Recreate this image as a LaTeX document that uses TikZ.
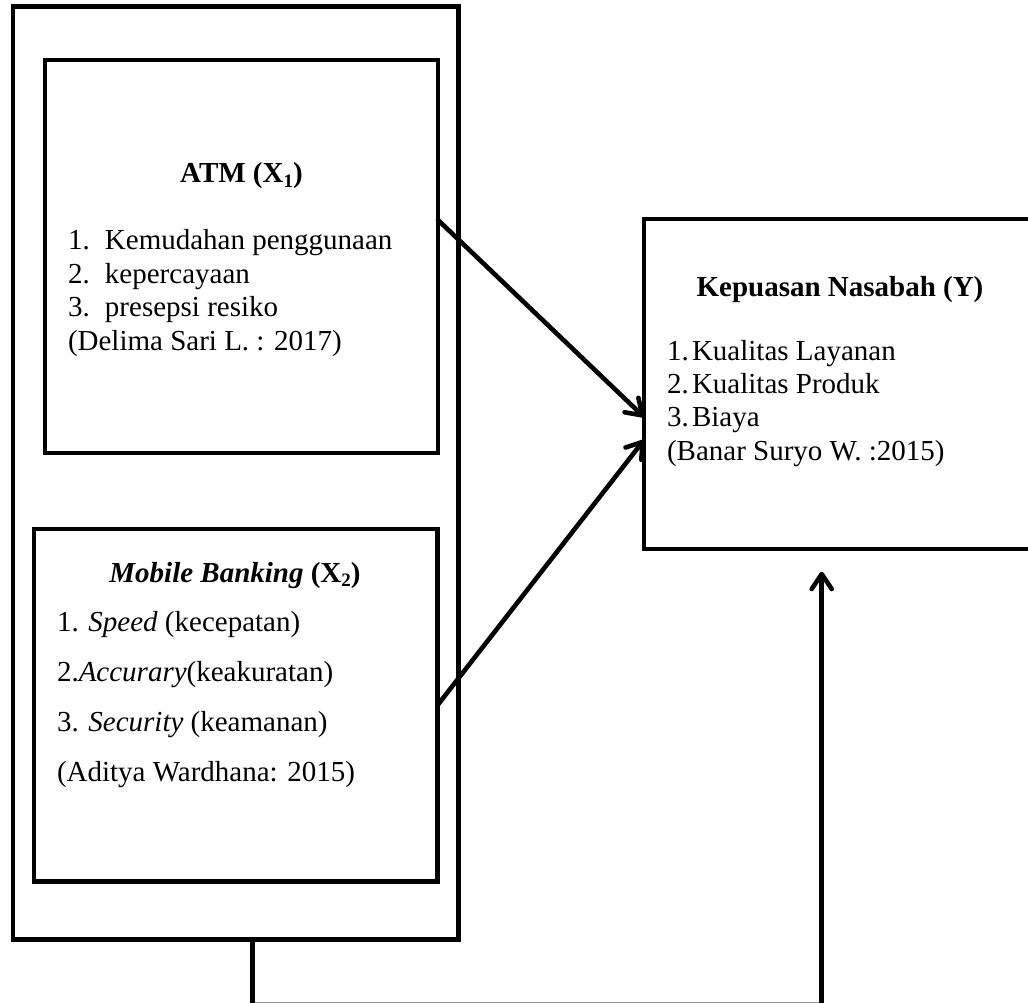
\documentclass[tikz,border=0pt]{standalone}
\usepackage{fontspec}
\setmainfont{Liberation Serif}
\usetikzlibrary{arrows.meta}
\newcommand{\subidx}[1]{\raisebox{-0.14em}{\fontsize{19}{19}\selectfont #1}}
\tikzset{
  frame/.style={draw=black, line width=4.8pt, inner sep=0pt, outer sep=0pt, rectangle},
  inbox/.style={draw=black, line width=4.4pt, inner sep=0pt, outer sep=0pt, rectangle},
  txt/.style={inner sep=0pt, outer sep=0pt, font=\fontsize{29}{33.4}\selectfont},
  line/.style={draw=black, line width=4.6pt, line cap=round},
  arr/.style={line, -{Straight Barb[length=15pt,width=20pt,round]}}
}
\begin{document}
\begin{tikzpicture}[x=1pt,y=-1pt]
\clip (0,0) rectangle (1028,1003);
\fill[white] (0,0) rectangle (1028,1003);

% boxes
\node[frame, minimum width=445.5pt, minimum height=933.2pt] (outer) at (235.75,472.9) {};
\node[inbox, minimum width=393pt, minimum height=393pt] (atm) at (241.5,256.5) {};
\node[inbox, minimum width=403.5pt, minimum height=352.5pt] (mob) at (235.75,705.25) {};
\node[inbox, minimum width=386pt, minimum height=330pt] (kep) at (837,384) {};

% ATM text
\node[txt, anchor=base] (atmT) at (241.5,183) {\textbf{ATM (X\subidx{1})}};
\node[txt, anchor=base west] (atm1) at (68,250) {\makebox[37pt][l]{1.}Kemudahan penggunaan};
\node[txt, anchor=base west] (atm2) at (68,283.4) {\makebox[37pt][l]{2.}kepercayaan};
\node[txt, anchor=base west] (atm3) at (68,316.8) {\makebox[37pt][l]{3.}presepsi resiko};
\node[txt, anchor=base west] (atm4) at (68,350.2) {(Delima Sari L. : 2017)};

% Mobile banking text
\node[txt, anchor=base] (mobT) at (235,582) {\textbf{\textit{Mobile Banking}} \textbf{(X\subidx{2})}};
\node[txt, anchor=base west] (mob1) at (57,631) {1. \textit{Speed} (kecepatan)};
\node[txt, anchor=base west] (mob2) at (57,681) {2.\textit{Accurary}(keakuratan)};
\node[txt, anchor=base west] (mob3) at (57,731) {3. \textit{Security} (keamanan)};
\node[txt, anchor=base west] (mob4) at (57,781) {(Aditya Wardhana: 2015)};

% Kepuasan text
\node[txt, anchor=base] (kepT) at (840,296) {\textbf{Kepuasan Nasabah (Y)}};
\node[txt, anchor=base west] (kep1) at (667,360) {\makebox[25pt][l]{1.}Kualitas Layanan};
\node[txt, anchor=base west] (kep2) at (667,393.4) {\makebox[25pt][l]{2.}Kualitas Produk};
\node[txt, anchor=base west] (kep3) at (667,426.8) {\makebox[25pt][l]{3.}Biaya};
\node[txt, anchor=base west] (kep4) at (667,460.2) {(Banar Suryo W. :2015)};

% connector coordinates
\coordinate (s1) at (atm.east |- 0,220);
\coordinate (e1) at (kep.west |- 0,417);
\coordinate (e2) at (kep.west |- 0,440);
\coordinate (b1) at (252.5,1004.2);
\coordinate (b2) at (821.7,1004.2);
\coordinate (tip3) at (821.7,571.7);

\draw[arr] (s1) -- (e1);
\draw[arr] (mob.east) -- (e2);
\draw[line, line cap=butt, draw=black!45] (b1) -- (b2);
\draw[line, line cap=butt] (outer.south -| b1) -- (b1);
\draw[arr] (b2) -- (tip3);
\end{tikzpicture}
\end{document}
